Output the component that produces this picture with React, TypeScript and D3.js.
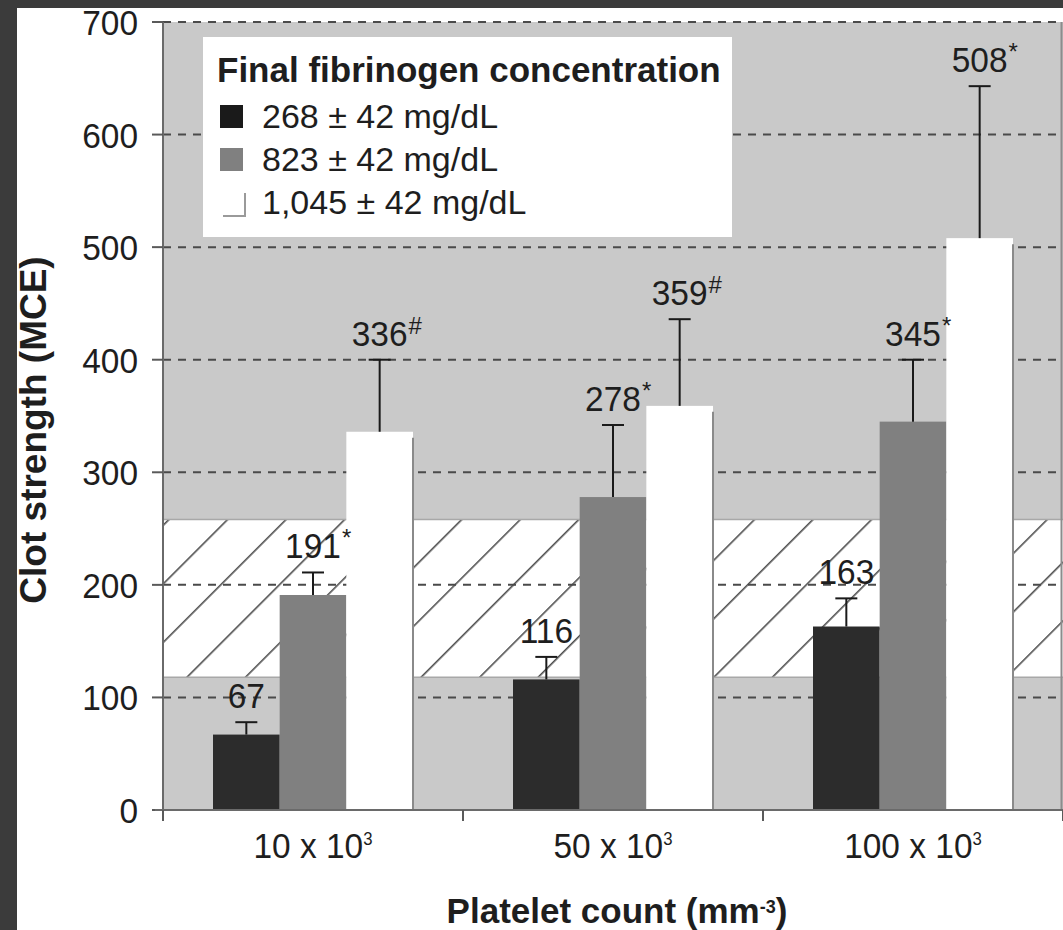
import React from "react";
import * as d3 from "d3";

// Platelet count groups and fibrinogen series
const categories = ["10 x 10", "50 x 10", "100 x 10"];
const seriesNames = ["268 ± 42 mg/dL", "823 ± 42 mg/dL", "1,045 ± 42 mg/dL"];
const lowFib = [67, 116, 163];
const midFib = [191, 278, 345];
const highFib = [336, 359, 508];
const lowErr = [11, 20, 25];
const midErr = [20, 64, 55];
const highErr = [64, 77, 135];
const lowMarks = ["", "", ""];
const midMarks = ["*", "*", "*"];
const highMarks = ["#", "#", "*"];
const yTicks = [0, 100, 200, 300, 400, 500, 600, 700];
// normal reference range shown as a hatched band
const refRange = [118, 258];

const seriesValues = [lowFib, midFib, highFib];
const seriesErrors = [lowErr, midErr, highErr];
const seriesMarks = [lowMarks, midMarks, highMarks];
const seriesFill = ["#2c2c2c", "#808080", "#ffffff"];

const W = 1063;
const H = 930;
const FONT = "'Liberation Sans', Arial, Helvetica, sans-serif";
const TXT = "#1e1e1e";
const SQUEEZE = 0.93;

// text drawn slightly narrower than the stock face
function NarrowText(props: {
  x: number;
  y: number;
  size: number;
  anchor?: "start" | "middle" | "end";
  dy?: string;
  children: React.ReactNode;
}) {
  const { x, y, size, anchor = "start", dy, children } = props;
  return (
    <text
      transform={`translate(${x},${y}) scale(${SQUEEZE},1)`}
      fontSize={size}
      textAnchor={anchor}
      dy={dy}
      fill={TXT}
    >
      {children}
    </text>
  );
}

export default function App() {
  const plotLeft = 163;
  const plotRight = 1063;
  const plotTop = 22;
  const plotBottom = 810;

  const y = d3.scaleLinear().domain([0, 700]).range([plotBottom, plotTop]);
  const x0 = d3
    .scaleBand<string>()
    .domain(categories)
    .range([plotLeft, plotRight])
    .paddingInner(1 / 3)
    .paddingOuter(1 / 6);
  const x1 = d3
    .scaleBand<string>()
    .domain(seriesNames)
    .range([0, x0.bandwidth()]);

  const numFs = 36;
  const digitW = 0.556 * numFs * SQUEEZE;

  const groupEdges = d3.range(categories.length + 1).map(
    (i) => plotLeft + i * x0.step()
  );

  return (
    <svg
      width={W}
      height={H}
      style={{ display: "block", position: "absolute", left: 0, top: 0 }}
      fontFamily={FONT}
    >
      <defs>
        <pattern
          id="hatch"
          patternUnits="userSpaceOnUse"
          width={41.4}
          height={41.4}
          patternTransform="translate(863,0) rotate(45)"
        >
          <rect width={41.4} height={41.4} fill="#ffffff" />
          <line x1={0.8} y1={0} x2={0.8} y2={41.4} stroke="#4d4d4d" strokeWidth={1.6} />
        </pattern>
      </defs>

      {/* frame */}
      <rect x={0} y={0} width={W} height={H} fill="#3b3b3b" />
      <rect x={17} y={8} width={W - 17} height={H - 8} fill="#ffffff" />

      {/* plot background */}
      <rect
        x={plotLeft}
        y={plotTop}
        width={plotRight - plotLeft}
        height={plotBottom - plotTop}
        fill="#c9c9c9"
      />
      <rect
        x={plotLeft}
        y={y(refRange[1])}
        width={plotRight - plotLeft}
        height={y(refRange[0]) - y(refRange[1])}
        fill="url(#hatch)"
      />
      {refRange.map((v) => (
        <line
          key={"rb" + v}
          x1={plotLeft}
          x2={plotRight}
          y1={y(v)}
          y2={y(v)}
          stroke="#a8a8a8"
          strokeWidth={1.5}
        />
      ))}
      <line x1={plotRight - 1.5} x2={plotRight - 1.5} y1={plotTop} y2={plotBottom} stroke="#8c8c8c" strokeWidth={2} />

      {/* dashed gridlines */}
      {yTicks
        .filter((t) => t > 0)
        .map((t) => (
          <line
            key={"g" + t}
            x1={plotLeft}
            x2={plotRight}
            y1={y(t)}
            y2={y(t)}
            stroke="#4a4a4a"
            strokeWidth={2}
            strokeDasharray="8 7"
          />
        ))}

      {/* bars */}
      {categories.map((c, ci) =>
        seriesNames.map((s, si) => {
          const v = seriesValues[si][ci];
          const bx = (x0(c) as number) + (x1(s) as number);
          const bw = x1.bandwidth();
          return (
            <g key={c + s}>
              <rect x={bx} y={y(v)} width={bw} height={y(0) - y(v)} fill={seriesFill[si]} />
              {si === 2 && (
                <line
                  x1={bx + bw}
                  x2={bx + bw}
                  y1={y(v) + 6}
                  y2={y(0)}
                  stroke="#8a8a8a"
                  strokeWidth={2}
                />
              )}
            </g>
          );
        })
      )}

      {/* legend */}
      <g>
        <rect x={203} y={37} width={529} height={200} fill="#ffffff" />
        <text x={217} y={82} fontSize={35} fontWeight="bold" fill={TXT}>
          Final fibrinogen concentration
        </text>
        {seriesNames.map((s, i) => {
          const base = 128 + i * 43;
          return (
            <g key={"lg" + s}>
              {i < 2 ? (
                <rect
                  x={220}
                  y={base - 23}
                  width={23}
                  height={23}
                  fill={i === 0 ? "#1a1a1a" : seriesFill[1]}
                />
              ) : (
                <path
                  d={`M${223},${base + 2}H${245}V${base - 21}`}
                  fill="none"
                  stroke="#9a9a9a"
                  strokeWidth={2}
                />
              )}
              <text x={262} y={base} fontSize={34} fill={TXT}>
                {s}
              </text>
            </g>
          );
        })}
      </g>

      {/* error bars and value labels */}
      {categories.map((c, ci) =>
        seriesNames.map((s, si) => {
          const v = seriesValues[si][ci];
          const e = seriesErrors[si][ci];
          const mark = seriesMarks[si][ci];
          const cx = (x0(c) as number) + (x1(s) as number) + x1.bandwidth() / 2;
          const top = y(v + e);
          const label = String(v);
          const half = (label.length * digitW) / 2;
          const base = top - 14;
          return (
            <g key={"e" + c + s}>
              <line x1={cx} x2={cx} y1={y(v)} y2={top} stroke="#1a1a1a" strokeWidth={2} />
              <line x1={cx - 11} x2={cx + 11} y1={top} y2={top} stroke="#1a1a1a" strokeWidth={2} />
              <NarrowText x={cx} y={base} size={numFs} anchor="middle">
                {label}
              </NarrowText>
              {mark && (
                <text x={cx + half + 1} y={base - 12} fontSize={24} fill={TXT}>
                  {mark}
                </text>
              )}
            </g>
          );
        })
      )}

      {/* y axis */}
      <line x1={plotLeft} x2={plotLeft} y1={plotTop} y2={plotBottom + 10} stroke="#6a6a6a" strokeWidth={2} />
      {yTicks.map((t) => (
        <g key={"yt" + t}>
          <line x1={plotLeft - 11} x2={plotLeft} y1={y(t)} y2={y(t)} stroke="#5a5a5a" strokeWidth={2} />
          <NarrowText x={138} y={y(t)} dy="0.36em" size={numFs} anchor="end">
            {t}
          </NarrowText>
        </g>
      ))}
      <text
        transform={`translate(46,430) rotate(-90)`}
        fontSize={37}
        fontWeight="bold"
        textAnchor="middle"
        fill={TXT}
      >
        Clot strength (MCE)
      </text>

      {/* x axis */}
      <line x1={plotLeft - 8} x2={plotRight} y1={plotBottom} y2={plotBottom} stroke="#6a6a6a" strokeWidth={2} />
      {groupEdges.map((gx, i) => (
        <line key={"xt" + i} x1={gx} x2={gx} y1={plotBottom} y2={plotBottom + 11} stroke="#5a5a5a" strokeWidth={2} />
      ))}
      {categories.map((c) => (
        <NarrowText
          key={"xl" + c}
          x={(x0(c) as number) + x0.bandwidth() / 2}
          y={858}
          size={36}
          anchor="middle"
        >
          {c}
          <tspan fontSize={18} dy={-13}>
            3
          </tspan>
        </NarrowText>
      ))}
      <text x={617} y={923} fontSize={35} fontWeight="bold" textAnchor="middle" fill={TXT}>
        Platelet count (mm
        <tspan fontSize={18} dy={-10}>
          -3
        </tspan>
        <tspan dy={10}>)</tspan>
      </text>
    </svg>
  );
}
